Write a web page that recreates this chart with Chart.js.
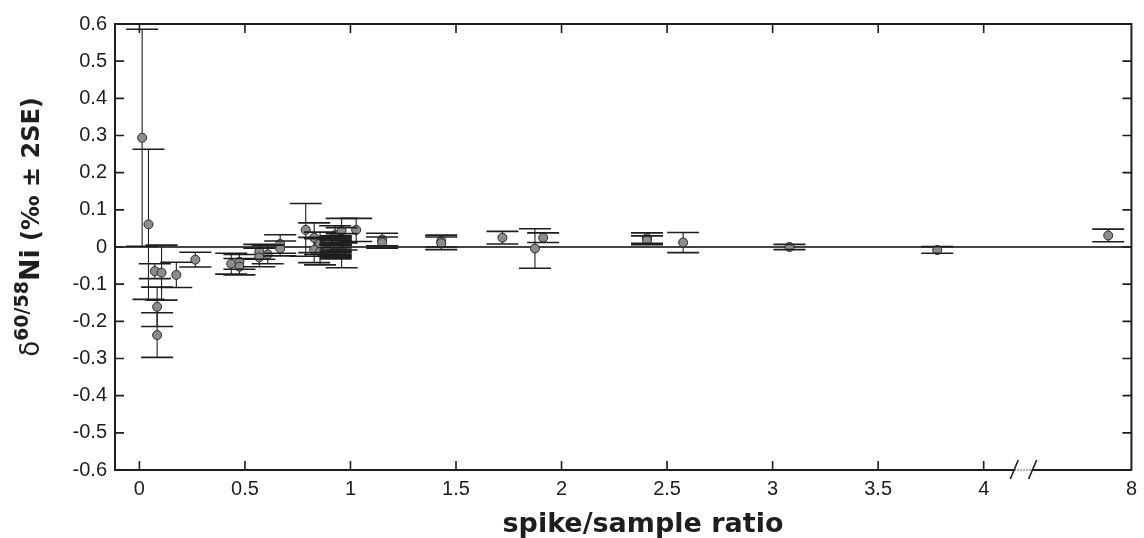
<!DOCTYPE html>
<html><head><meta charset="utf-8">
<script src="https://cdn.jsdelivr.net/npm/chart.js@4/dist/chart.umd.min.js"></script>
<style>html,body{margin:0;padding:0;background:#fff}#wrap{width:1144px;height:538px;position:relative}</style>
</head><body><div id="wrap"><canvas id="c"></canvas></div>
<script>
// ---- data (spike/sample ratio, delta60/58Ni, 2SE) ----
const xRatio = [0.013,0.043,0.073,0.105,0.084,0.084,0.175,0.265,0.435,0.474,0.474,0.568,0.568,0.608,0.667,0.667,
  0.788,0.828,0.856,0.828,0.856,0.927,0.958,0.958,
  0.93,0.93,0.93,0.93,0.93,0.93,0.93,0.93,0.93,0.93,0.93,0.93,0.958,
  1.027,1.15,1.15,1.43,1.43,1.72,1.874,1.913,2.405,2.405,2.576,3.08,3.78,7.89];
const yDelta = [0.294,0.061,-0.065,-0.069,-0.161,-0.237,-0.075,-0.034,-0.045,-0.040,-0.053,-0.013,-0.028,-0.020,0.008,-0.004,
  0.046,0.025,0.010,-0.008,-0.013,0.032,0.044,0.022,
  0.005,0.000,-0.002,0.010,-0.005,0.004,0.000,-0.010,0.008,0.002,-0.004,0.012,-0.010,
  0.046,0.020,0.012,0.016,0.010,0.025,-0.004,0.025,0.024,0.018,0.012,0.000,-0.008,0.031];
const err2SE = [0.292,0.202,0.020,0.074,0.053,0.060,0.034,0.020,0.028,0.020,0.022,0.020,0.025,0.025,0.025,0.020,
  0.071,0.040,0.030,0.034,0.035,0.025,0.033,0.030,
  0.025,0.028,0.030,0.012,0.018,0.020,0.008,0.016,0.010,0.016,0.008,0.006,0.046,
  0.031,0.017,0.015,0.016,0.017,0.017,0.053,0.013,0.014,0.012,0.027,0.007,0.009,0.017];
const xTickValues = [0,0.5,1,1.5,2,2.5,3,3.5,4,8];
const xTickLabels = ['0','0.5','1','1.5','2','2.5','3','3.5','4','8'];
const yTickValues = [-0.6,-0.5,-0.4,-0.3,-0.2,-0.1,0,0.1,0.2,0.3,0.4,0.5,0.6];
const xTitle = 'spike/sample ratio';
const xBreak = [4.145, 4.232];          // axis break marks (axis units)
const X_MIN = -0.1156, X_MAX = 4.70;    // "8" sits at the right edge after the break
function axisX(x){ return x > 5 ? X_MAX - (8 - x) : x; }

const ink = '#1e1e1e';
const tickFont = {family:'"Liberation Sans", Arial, sans-serif', size:20};

const errorBars = {
  id:'errorBars',
  beforeDatasetsDraw(chart){
    const {ctx, scales:{x,y}} = chart;
    ctx.save(); ctx.strokeStyle = ink; ctx.lineWidth = 1.1;
    xRatio.forEach((xv,i)=>{
      const px = x.getPixelForValue(axisX(xv));
      const t = y.getPixelForValue(yDelta[i]+err2SE[i]);
      const b = y.getPixelForValue(yDelta[i]-err2SE[i]);
      ctx.beginPath(); ctx.moveTo(px,t); ctx.lineTo(px,b); ctx.stroke();
    });
    ctx.restore();
  },
  afterDatasetsDraw(chart){
    const {ctx, scales:{x,y}} = chart;
    ctx.save(); ctx.strokeStyle = ink; ctx.lineWidth = 1.6;
    xRatio.forEach((xv,i)=>{
      const px = x.getPixelForValue(axisX(xv));
      [yDelta[i]+err2SE[i], yDelta[i]-err2SE[i]].forEach(v=>{
        const py = y.getPixelForValue(v);
        ctx.beginPath(); ctx.moveTo(px-16,py); ctx.lineTo(px+16,py); ctx.stroke();
      });
    });
    ctx.restore();
  }
};

const frame = {
  id:'frame',
  afterDraw(chart){
    const {ctx, chartArea:a, scales:{x,y}} = chart;
    ctx.save();
    ctx.strokeStyle = ink; ctx.lineWidth = 2;
    ctx.beginPath(); ctx.moveTo(a.left,a.top); ctx.lineTo(a.right,a.top); ctx.lineTo(a.right,a.bottom); ctx.stroke();
    ctx.lineWidth = 1.6;
    const L = 9;
    xTickValues.forEach(v=>{
      const px = x.getPixelForValue(axisX(v));
      if (px > a.right-2) return;
      ctx.beginPath(); ctx.moveTo(px,a.bottom); ctx.lineTo(px,a.bottom-L);
      ctx.moveTo(px,a.top); ctx.lineTo(px,a.top+L); ctx.stroke();
    });
    yTickValues.forEach(v=>{
      const py = y.getPixelForValue(v);
      ctx.beginPath(); ctx.moveTo(a.left,py); ctx.lineTo(a.left+L,py);
      ctx.moveTo(a.right,py); ctx.lineTo(a.right-L,py); ctx.stroke();
    });
    // axis break
    const b0 = x.getPixelForValue(xBreak[0]), b1 = x.getPixelForValue(xBreak[1]);
    ctx.fillStyle = '#fff'; ctx.fillRect(b0+1, a.bottom-2, b1-b0-2, 4);
    ctx.strokeStyle = '#777'; ctx.lineWidth = 1.5; ctx.setLineDash([1.5,1.5]);
    ctx.beginPath(); ctx.moveTo(b0,a.bottom); ctx.lineTo(b1,a.bottom); ctx.stroke();
    ctx.setLineDash([]); ctx.strokeStyle = ink; ctx.lineWidth = 1.6;
    [b0,b1].forEach(p=>{
      ctx.beginPath(); ctx.moveTo(p-4,a.bottom+9); ctx.lineTo(p+4,a.bottom-10); ctx.stroke();
    });
    // x-axis title
    ctx.fillStyle = ink; ctx.font = 'bold 27px "DejaVu Sans", sans-serif';
    ctx.textAlign = 'center'; ctx.textBaseline = 'middle';
    ctx.fillText(xTitle, 643, 525);
    // y-axis title with superscript
    ctx.textAlign = 'left';
    const cx = 30, cy = 227;
    const parts = [
      {t:'\u03B4', f:'26px "DejaVu Sans", sans-serif', dy:0},
      {t:'60/58', f:'bold 19px "DejaVu Sans", sans-serif', dy:-11},
      {t:'Ni', f:'bold 27px "DejaVu Sans", sans-serif', dy:0},
      {t:' (\u2030 \u00B1 2SE)', f:'bold 24px "DejaVu Sans", sans-serif', dy:0}
    ];
    let total = 0;
    parts.forEach(p=>{ ctx.font = p.f; p.w = ctx.measureText(p.t).width; total += p.w; });
    ctx.translate(cx+9, cy); ctx.rotate(-Math.PI/2);
    ctx.textBaseline = 'alphabetic';
    let xx = -total/2;
    parts.forEach(p=>{ ctx.font = p.f; ctx.fillText(p.t, xx, p.dy); xx += p.w; });
    ctx.restore();
  }
};

new Chart(document.getElementById('c'), {
  type:'scatter',
  data:{ datasets:[{
    data: xRatio.map((xv,i)=>({x:axisX(xv), y:yDelta[i]})),
    pointRadius:4.5, pointHoverRadius:4.5,
    backgroundColor:'#8c8c8c', borderColor:'#2a2a2a', borderWidth:1
  }]},
  options:{
    responsive:true, maintainAspectRatio:false, animation:false, devicePixelRatio:1,
    layout:{padding:{top:24,right:7,bottom:0,left:0}},
    plugins:{legend:{display:false}, tooltip:{enabled:false}},
    scales:{
      x:{
        type:'linear', min:X_MIN, max:X_MAX,
        afterFit(s){ s.height = 68; },
        afterBuildTicks(s){ s.ticks = xTickValues.map(v=>({value:axisX(v)})); },
        ticks:{ autoSkip:false, maxRotation:0, padding:7, color:ink, font:tickFont,
          callback:(v,i)=>xTickLabels[i] },
        grid:{display:false, drawTicks:false},
        border:{display:true, color:ink, width:2}
      },
      y:{
        min:-0.6, max:0.6,
        afterFit(s){ s.width = 115; },
        afterBuildTicks(s){ s.ticks = yTickValues.map(v=>({value:v})); },
        ticks:{ padding:8, color:ink, font:tickFont,
          callback:v=> Math.abs(v)<1e-9 ? '0' : v.toFixed(1) },
        grid:{ drawTicks:false, lineWidth:2,
          color:c=> (c.tick && Math.abs(c.tick.value)<1e-9) ? '#444' : 'rgba(0,0,0,0)' },
        border:{display:true, color:ink, width:2}
      }
    }
  },
  plugins:[errorBars, frame]
});
</script></body></html>
